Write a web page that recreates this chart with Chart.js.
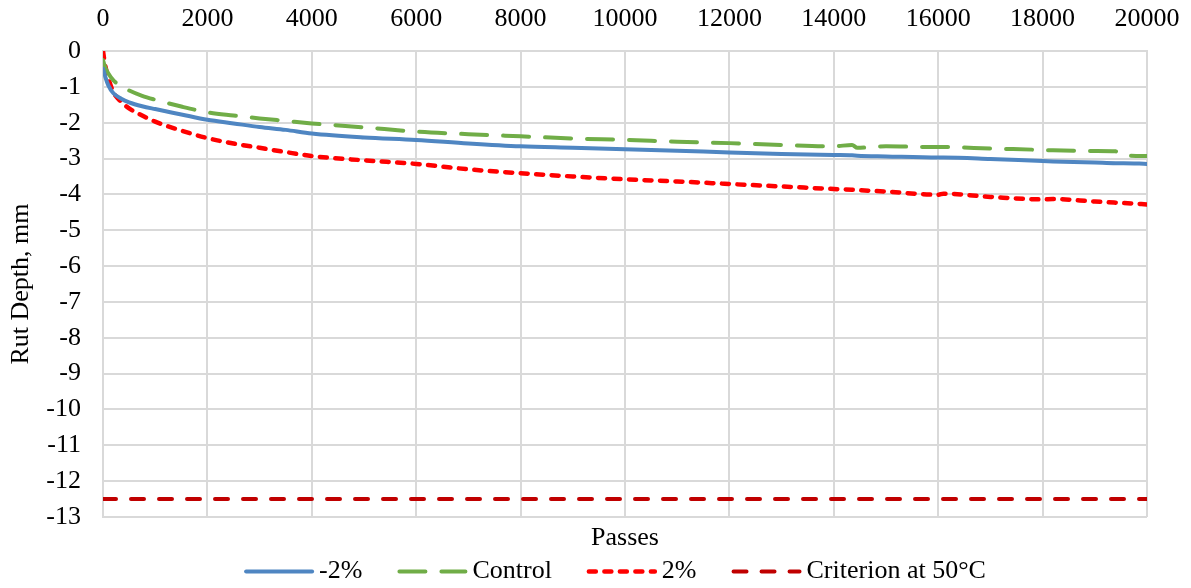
<!DOCTYPE html>
<html>
<head>
<meta charset="utf-8">
<script src="https://cdn.jsdelivr.net/npm/chart.js@4/dist/chart.umd.min.js"></script>
<style>
  html, body { margin: 0; padding: 0; background: #ffffff; }
  #wrap { width: 1191px; height: 588px; }
</style>
</head>
<body>
<div id="wrap"><canvas id="chart" width="1191" height="588"></canvas></div>
<script>
// Wheel passes at which rut depth was sampled
const passes = [0, 25, 50, 100, 200, 350, 500, 750, 1000, 1500, 2000, 2500, 3000, 3500, 4000,
  5000, 6000, 7000, 8000, 9000, 10000, 11000, 12000, 13000, 14000, 14350, 14450, 15000,
  16000, 16100, 17000, 18000, 18200, 19000, 19400, 19550, 20000];

// Rut depth (mm) for each mix
const rutMinus2 = [-0.50, -0.62, -0.75, -0.95, -1.18, -1.33, -1.43, -1.54, -1.62, -1.77, -1.92, -2.02, -2.12, -2.20, -2.30,
  -2.41, -2.48, -2.58, -2.66, -2.70, -2.74, -2.78, -2.83, -2.87, -2.90, -2.91, -2.92, -2.94,
  -2.97, -2.97, -3.01, -3.07, -3.08, -3.11, -3.13, -3.13, -3.15];
const rutControl = [-0.25, -0.38, -0.48, -0.62, -0.82, -0.98, -1.10, -1.25, -1.36, -1.55, -1.71, -1.80, -1.88, -1.95, -2.02,
  -2.13, -2.25, -2.32, -2.38, -2.44, -2.48, -2.53, -2.57, -2.62, -2.66, -2.62, -2.70, -2.66,
  -2.68, -2.68, -2.72, -2.76, -2.77, -2.79, -2.80, -2.91, -2.93];
const rutPlus2 = [0.00, -0.25, -0.45, -0.75, -1.15, -1.42, -1.60, -1.80, -1.97, -2.22, -2.43, -2.58, -2.70, -2.82, -2.93,
  -3.05, -3.15, -3.30, -3.41, -3.50, -3.58, -3.64, -3.71, -3.78, -3.85, -3.87, -3.88, -3.92,
  -4.01, -3.98, -4.07, -4.14, -4.13, -4.20, -4.23, -4.24, -4.28];

// Failure criterion at 50 °C
const criterionPasses = [0, 20000];
const criterionDepth = [-12.5, -12.5];

const seriesNames = ['-2%', 'Control', '2%', 'Criterion at 50°C'];
const xTicks = [0, 20000, 2000];   // min, max, step
const yTicks = [-13, 0, 1];        // min, max, step

const FONT = '"Liberation Serif", "Times New Roman", serif';

function toPoints(xs, ys) {
  return xs.map((x, i) => ({ x: x, y: ys[i] }));
}

const lineBase = {
  pointRadius: 0,
  pointHoverRadius: 0,
  fill: false,
  cubicInterpolationMode: 'monotone',
  borderCapStyle: 'round',
  borderJoinStyle: 'round'
};

const datasets = [
  Object.assign({}, lineBase, {
    label: seriesNames[0],
    data: toPoints(passes, rutMinus2),
    borderColor: '#4F86C2',
    borderWidth: 4,
    borderDash: []
  }),
  Object.assign({}, lineBase, {
    label: seriesNames[1],
    data: toPoints(passes, rutControl),
    borderColor: '#70AD47',
    borderWidth: 4,
    borderDash: [26, 16]
  }),
  Object.assign({}, lineBase, {
    label: seriesNames[2],
    data: toPoints(passes, rutPlus2),
    borderColor: '#FF0000',
    borderWidth: 4.5,
    borderDash: [7, 8.5]
  }),
  Object.assign({}, lineBase, {
    label: seriesNames[3],
    data: toPoints(criterionPasses, criterionDepth),
    borderColor: '#C00000',
    borderWidth: 4,
    borderDash: [13, 15],
    cubicInterpolationMode: 'default',
    tension: 0
  })
];

// Axis title under the plot and a line-sample legend
const bottomLegend = {
  id: 'bottomLegend',
  afterDraw(chart) {
    const ctx = chart.ctx;
    const area = chart.chartArea;
    ctx.save();
    ctx.font = '26px ' + FONT;
    ctx.fillStyle = '#000000';
    ctx.textBaseline = 'middle';
    ctx.textAlign = 'center';
    ctx.fillText('Passes', (area.left + area.right) / 2, area.bottom + 21);

    const sampleW = 70, textGap = 5, itemGap = 35;
    const ds = chart.data.datasets;
    const widths = ds.map(d => sampleW + textGap + ctx.measureText(d.label).width);
    const total = widths.reduce((a, b) => a + b, 0) + itemGap * (ds.length - 1);
    let x = (area.left + area.right) / 2 - 10 - total / 2;
    const y = area.bottom + 54.5;
    ctx.textAlign = 'left';
    ds.forEach((d, i) => {
      ctx.save();
      ctx.beginPath();
      ctx.strokeStyle = d.borderColor;
      ctx.lineWidth = d.borderWidth;
      ctx.lineCap = 'round';
      ctx.setLineDash(d.borderDash || []);
      ctx.moveTo(x + 2, y);
      ctx.lineTo(x + sampleW - 2, y);
      ctx.stroke();
      ctx.restore();
      ctx.fillStyle = '#000000';
      ctx.fillText(d.label, x + sampleW + textGap, y);
      x += widths[i] + itemGap;
    });
    ctx.restore();
  }
};

new Chart(document.getElementById('chart'), {
  type: 'line',
  data: { datasets: datasets },
  plugins: [bottomLegend],
  options: {
    responsive: false,
    animation: false,
    events: [],
    layout: { padding: { left: 0, right: 44, top: 0, bottom: 71 } },
    plugins: {
      legend: { display: false },
      tooltip: { enabled: false },
      title: { display: false }
    },
    scales: {
      x: {
        type: 'linear',
        position: 'top',
        min: xTicks[0],
        max: xTicks[1],
        afterFit(scale) {
          scale.height = 51;
          scale.paddingLeft = 0;
          scale.paddingRight = 0;
        },
        ticks: {
          stepSize: xTicks[2],
          autoSkip: false,
          maxRotation: 0,
          padding: 16,
          color: '#000000',
          font: { family: FONT, size: 26 },
          callback: v => String(v)
        },
        grid: { color: '#D9D9D9', lineWidth: 2, drawTicks: false },
        border: { color: '#D9D9D9', width: 2 }
      },
      y: {
        type: 'linear',
        min: yTicks[0],
        max: yTicks[1],
        afterFit(scale) { scale.width = 103; },
        ticks: {
          stepSize: yTicks[2],
          autoSkip: false,
          padding: 22,
          color: '#000000',
          font: { family: FONT, size: 26 },
          callback: v => String(v)
        },
        grid: { color: '#D9D9D9', lineWidth: 2, drawTicks: false },
        border: { color: '#D9D9D9', width: 2 },
        title: {
          display: true,
          text: 'Rut Depth, mm',
          color: '#000000',
          font: { family: FONT, size: 26 },
          padding: { top: 6, bottom: 0 }
        }
      }
    }
  }
});
</script>
</body>
</html>
